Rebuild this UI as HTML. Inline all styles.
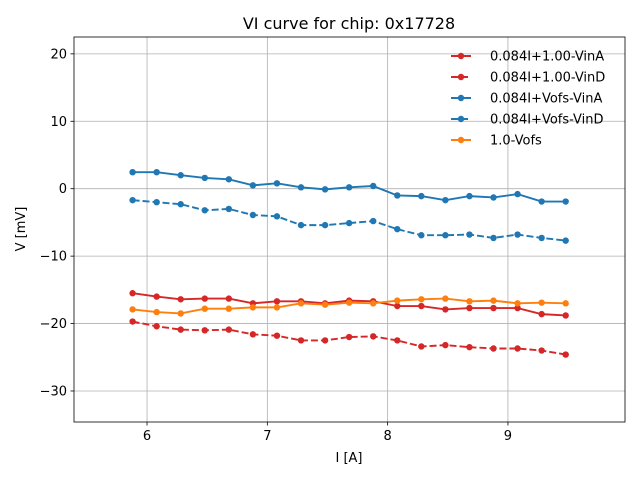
<!DOCTYPE html>
<html><head><meta charset="utf-8"><style>
body{margin:0;background:#fff;}
svg text{font-family:"DejaVu Sans","Liberation Sans",sans-serif;}
</style></head><body>
<svg id="chart" width="640" height="480" xmlns="http://www.w3.org/2000/svg">
<rect width="640" height="480" fill="#fff"/>
<g id="grid"></g>
<g id="series"></g>
<rect x="74" y="37" width="551" height="385" fill="none" stroke="#000" stroke-width="0.8"/>
<g id="axes"></g>
<text x="349" y="29" text-anchor="middle" font-size="16">VI curve for chip: 0x17728</text>
<text x="349" y="462" text-anchor="middle" font-size="13">I [A]</text>
<text x="25" y="229" text-anchor="middle" font-size="13" transform="rotate(-90 25 229)">V [mV]</text>
<g id="legend"></g>
</svg>
<script>
const currents=[5.88,6.08,6.28,6.48,6.68,6.88,7.08,7.28,7.48,7.68,7.88,8.08,8.28,8.48,8.68,8.88,9.08,9.28,9.48];
const redVinA=[-15.5,-16.0,-16.4,-16.3,-16.3,-17.0,-16.7,-16.7,-17.0,-16.6,-16.7,-17.4,-17.4,-17.9,-17.7,-17.7,-17.7,-18.6,-18.8];
const redVinD=[-19.7,-20.4,-20.9,-21.0,-20.9,-21.6,-21.8,-22.5,-22.5,-22.0,-21.9,-22.5,-23.4,-23.2,-23.5,-23.7,-23.7,-24.0,-24.6];
const blueVinA=[2.45,2.45,2.0,1.6,1.4,0.5,0.8,0.2,-0.1,0.2,0.4,-1.0,-1.1,-1.7,-1.1,-1.3,-0.8,-1.9,-1.9];
const blueVinD=[-1.7,-2.0,-2.3,-3.2,-3.0,-3.9,-4.1,-5.4,-5.4,-5.1,-4.8,-6.0,-6.9,-6.9,-6.8,-7.3,-6.8,-7.3,-7.7];
const orangeVofs=[-17.9,-18.3,-18.5,-17.8,-17.8,-17.6,-17.6,-17.0,-17.2,-16.9,-17.0,-16.6,-16.4,-16.3,-16.7,-16.6,-17.0,-16.9,-17.0];
const xTicks=[6,7,8,9];
const yTicks=[20,10,0,-10,-20,-30];
const yTickLabels=["20","10","0","\u221210","\u221220","\u221230"];
const legendLabels=["0.084I+1.00-VinA","0.084I+1.00-VinD","0.084I+Vofs-VinA","0.084I+Vofs-VinD","1.0-Vofs"];

const NS="http://www.w3.org/2000/svg";
const xMin=5.393,xMax=9.973,yMin=-34.6,yMax=22.5;
const L=74,R=625,T=37,B=422;
const sx=v=>L+(v-xMin)/(xMax-xMin)*(R-L);
const sy=v=>B-(v-yMin)/(yMax-yMin)*(B-T);
function mk(tag,attrs,parent){const e=document.createElementNS(NS,tag);for(const k in attrs)e.setAttribute(k,attrs[k]);parent.appendChild(e);return e;}
const grid=document.getElementById('grid'),axes=document.getElementById('axes');
xTicks.forEach(t=>{
  const x=sx(t);
  const g=mk('line',{x1:x,x2:x,y1:T,y2:B,stroke:'#b0b0b0','stroke-width':0.8},grid);
  
  
  const tk=mk('line',{x1:x,x2:x,y1:B,y2:B+3.5,stroke:'#000','stroke-width':0.8},axes);
  
  
  const tx=mk('text',{x:x,y:B+18,'text-anchor':'middle','font-size':13},axes);
  tx.textContent=String(t);
  
  
});
yTicks.forEach((t,i)=>{
  const y=sy(t);
  const g=mk('line',{x1:L,x2:R,y1:y,y2:y,stroke:'#b0b0b0','stroke-width':0.8},grid);
  
  
  const tk=mk('line',{x1:L-3.5,x2:L,y1:y,y2:y,stroke:'#000','stroke-width':0.8},axes);
  
  
  const tx=mk('text',{x:L-7,y:y+4.5,'text-anchor':'end','font-size':13},axes);
  tx.textContent=yTickLabels[i];
  
  
});
const seriesDefs=[
  {vals:redVinA,color:'#d62728',dash:'',name:'series-red-vina'},
  {vals:redVinD,color:'#d62728',dash:'7,3',name:'series-red-vind'},
  {vals:blueVinA,color:'#1f77b4',dash:'',name:'series-blue-vina'},
  {vals:blueVinD,color:'#1f77b4',dash:'7,3',name:'series-blue-vind'},
  {vals:orangeVofs,color:'#ff7f0e',dash:'',name:'series-orange-vofs'}
];
const sg=document.getElementById('series');
seriesDefs.forEach(s=>{
  const g=mk('g',{},sg);
  
  
  const pts=s.vals.map((v,i)=>sx(currents[i])+','+sy(v)).join(' ');
  const pl=mk('polyline',{points:pts,fill:'none',stroke:s.color,'stroke-width':1.9,'stroke-dasharray':s.dash||'none'},g);
  
  
  s.vals.forEach((v,i)=>{
    const c=mk('circle',{cx:sx(currents[i]),cy:sy(v),r:3.2,fill:s.color},g);
    
    
  });
});
const lg=document.getElementById('legend');
legendLabels.forEach((lab,i)=>{
  const s=seriesDefs[i];const y=56+i*21;
  const g=mk('g',{},lg);
  
  
  mk('line',{x1:451,x2:471,y1:y,y2:y,stroke:s.color,'stroke-width':1.9,'stroke-dasharray':s.dash||'none'},g);
  mk('circle',{cx:461,cy:y,r:3.2,fill:s.color},g);
  const t=mk('text',{x:490,y:y+4.5,'font-size':13},g);
  t.textContent=lab;
});
</script>
</body></html>
